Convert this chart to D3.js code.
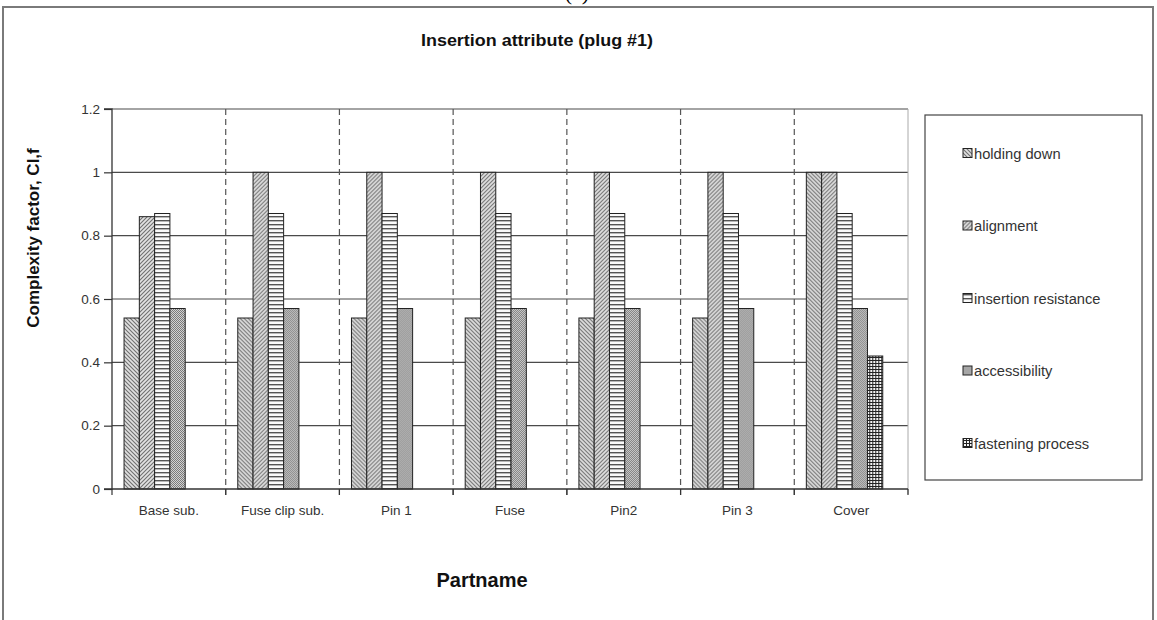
<!DOCTYPE html>
<html><head><meta charset="utf-8">
<script src="https://cdn.jsdelivr.net/npm/d3@7"></script>
<style>body{margin:0;background:#fff;} svg{display:block;}</style>
</head><body>
<script>
const categories = ["Base sub.", "Fuse clip sub.", "Pin 1", "Fuse", "Pin2", "Pin 3", "Cover"];
const seriesNames = ["holding down", "alignment", "insertion resistance", "accessibility", "fastening process"];
const holdingDown = [0.54, 0.54, 0.54, 0.54, 0.54, 0.54, 1.0];
const alignment = [0.86, 1.0, 1.0, 1.0, 1.0, 1.0, 1.0];
const insertionResistance = [0.87, 0.87, 0.87, 0.87, 0.87, 0.87, 0.87];
const accessibility = [0.57, 0.57, 0.57, 0.57, 0.57, 0.57, 0.57];
const fasteningProcess = [0, 0, 0, 0, 0, 0, 0.42];
const yTicks = [0, 0.2, 0.4, 0.6, 0.8, 1, 1.2];
const chartTitle = "Insertion attribute (plug #1)";
const yTitle = "Complexity factor, CI,f";
const xTitle = "Partname";

const seriesValues = [holdingDown, alignment, insertionResistance, accessibility, fasteningProcess];

const W = 1157, H = 620;
const svg = d3.select("body").append("svg").attr("width", W).attr("height", H);
const defs = svg.append("defs");

function pat(id, size, draw, bg) {
  const p = defs.append("pattern").attr("id", id).attr("patternUnits", "userSpaceOnUse")
    .attr("width", size).attr("height", size);
  p.append("rect").attr("width", size).attr("height", size).attr("fill", bg || "#fff");
  draw(p);
}
pat("p0", 4, p => {
  p.append("path").attr("d", "M-1,-1 L5,5 M-1,3 L1,5 M3,-1 L5,1").attr("stroke", "#707070").attr("stroke-width", 1.1);
}, "#e0e0e0");
pat("p1", 4, p => {
  p.append("path").attr("d", "M-1,5 L5,-1 M-1,1 L1,-1 M3,5 L5,3").attr("stroke", "#707070").attr("stroke-width", 1.1);
}, "#e2e2e2");
pat("p2", 4, p => {
  p.append("rect").attr("x", 0).attr("y", 0).attr("width", 4).attr("height", 1.4).attr("fill", "#555");
}, "#fafafa");
pat("p3", 2, p => {
  p.append("rect").attr("x", 0).attr("y", 0).attr("width", 1).attr("height", 1).attr("fill", "#7a7a7a");
  p.append("rect").attr("x", 1).attr("y", 1).attr("width", 1).attr("height", 1).attr("fill", "#7a7a7a");
}, "#d2d2d2");
pat("p4", 3, p => {
  p.append("rect").attr("x", 0).attr("y", 0).attr("width", 3).attr("height", 1).attr("fill", "#222");
  p.append("rect").attr("x", 0).attr("y", 0).attr("width", 1).attr("height", 3).attr("fill", "#222");
}, "#f4f4f4");

svg.append("rect").attr("x", 3).attr("y", 7).attr("width", 1150).attr("height", 640)
  .attr("fill", "none").attr("stroke", "#7a7a7a").attr("stroke-width", 2);
svg.append("text").attr("x", 577).attr("y", 0).attr("text-anchor", "middle")
  .attr("font-family", "Liberation Serif, serif").attr("font-size", 22).attr("fill", "#000").text("(a)");

const pLeft = 112, pRight = 908, pTop = 109, pBottom = 489;
const x0 = d3.scaleBand().domain(categories).range([pLeft, pRight]).padding(0);
const bw = x0.bandwidth();
const x1 = d3.scaleBand().domain(seriesNames).range([bw * 0.106, bw * 0.106 + bw * 0.672]).padding(0);
const y = d3.scaleLinear().domain([0, 1.2]).range([pBottom, pTop]);

svg.append("g").selectAll("line").data(yTicks.slice(1)).join("line")
  .attr("x1", pLeft).attr("x2", pRight).attr("y1", d => y(d)).attr("y2", d => y(d))
  .attr("stroke", "#4a4a4a").attr("stroke-width", 1.2);
svg.append("line").attr("x1", pRight).attr("x2", pRight).attr("y1", pTop).attr("y2", pBottom + 5)
  .attr("stroke", "#aaa").attr("stroke-width", 1);
svg.append("g").selectAll("line").data(categories.slice(1)).join("line")
  .attr("x1", d => x0(d)).attr("x2", d => x0(d)).attr("y1", pTop).attr("y2", pBottom + 6)
  .attr("stroke", "#555").attr("stroke-width", 1.2).attr("stroke-dasharray", "6,4");

const groups = svg.append("g").selectAll("g").data(categories).join("g")
  .attr("transform", d => `translate(${x0(d)},0)`);
groups.selectAll("rect").data((c, ci) => seriesNames.map((s, si) => ({s, si, v: seriesValues[si][ci]})).filter(d => d.v > 0))
  .join("rect")
  .attr("x", d => x1(d.s)).attr("width", x1.bandwidth())
  .attr("y", d => y(d.v)).attr("height", d => y(0) - y(d.v))
  .attr("fill", d => `url(#p${d.si})`).attr("stroke", "#222").attr("stroke-width", 1);

const yAxis = d3.axisLeft(y).tickValues(yTicks).tickSize(8).tickPadding(4)
  .tickFormat(d => d3.format("~g")(d));
const ga = svg.append("g").attr("transform", `translate(${pLeft},0)`).call(yAxis);
ga.select(".domain").attr("stroke", "#333").attr("stroke-width", 1.3).attr("d", `M-8,${pTop}H0V${pBottom}H-8`);
ga.selectAll(".tick line").attr("stroke", "#333").attr("stroke-width", 1.2);
ga.selectAll("text").attr("font-family", "Liberation Sans, Arial, sans-serif").attr("font-size", 13.5).attr("fill", "#333");

const xAxis = d3.axisBottom(x0).tickSize(0).tickPadding(16);
const gx = svg.append("g").attr("transform", `translate(0,${pBottom})`).call(xAxis);
gx.select(".domain").attr("stroke", "#333").attr("stroke-width", 1.3).attr("d", `M${pLeft},0H${pRight}`);
gx.selectAll("text").attr("font-family", "Liberation Sans, Arial, sans-serif").attr("font-size", 13.5).attr("fill", "#333");
svg.append("g").selectAll("line").data(categories.concat(["end"])).join("line")
  .attr("x1", (d, i) => pLeft + i * bw).attr("x2", (d, i) => pLeft + i * bw)
  .attr("y1", pBottom).attr("y2", pBottom + 6).attr("stroke", "#333").attr("stroke-width", 1.2);

svg.append("text").attr("x", 537).attr("y", 46).attr("text-anchor", "middle")
  .attr("font-family", "Liberation Sans, Arial, sans-serif").attr("font-weight", "bold")
  .attr("font-size", 17).attr("textLength", 232).attr("lengthAdjust", "spacingAndGlyphs")
  .attr("fill", "#111").text(chartTitle);
svg.append("text").attr("x", 482).attr("y", 587).attr("text-anchor", "middle")
  .attr("font-family", "Liberation Sans, Arial, sans-serif").attr("font-weight", "bold")
  .attr("font-size", 20).attr("fill", "#111").text(xTitle);
svg.append("text").attr("transform", "translate(39,238) rotate(-90)").attr("text-anchor", "middle")
  .attr("font-family", "Liberation Sans, Arial, sans-serif").attr("font-weight", "bold")
  .attr("font-size", 17).attr("fill", "#111").text(yTitle);

svg.append("rect").attr("x", 925).attr("y", 115).attr("width", 217).attr("height", 365)
  .attr("fill", "#fff").attr("stroke", "#444").attr("stroke-width", 1.2);
const lg = svg.append("g").selectAll("g").data(seriesNames).join("g")
  .attr("transform", (d, i) => `translate(963,${153 + i * 72.5})`);
lg.append("rect").attr("x", 0).attr("y", -4.5).attr("width", 9).attr("height", 9)
  .attr("fill", (d, i) => `url(#p${i})`).attr("stroke", "#222").attr("stroke-width", 1);
lg.append("text").attr("x", 11).attr("y", 5.5).attr("font-family", "Liberation Sans, Arial, sans-serif")
  .attr("font-size", 14.7).attr("fill", "#333").text(d => d);
</script>
</body></html>
